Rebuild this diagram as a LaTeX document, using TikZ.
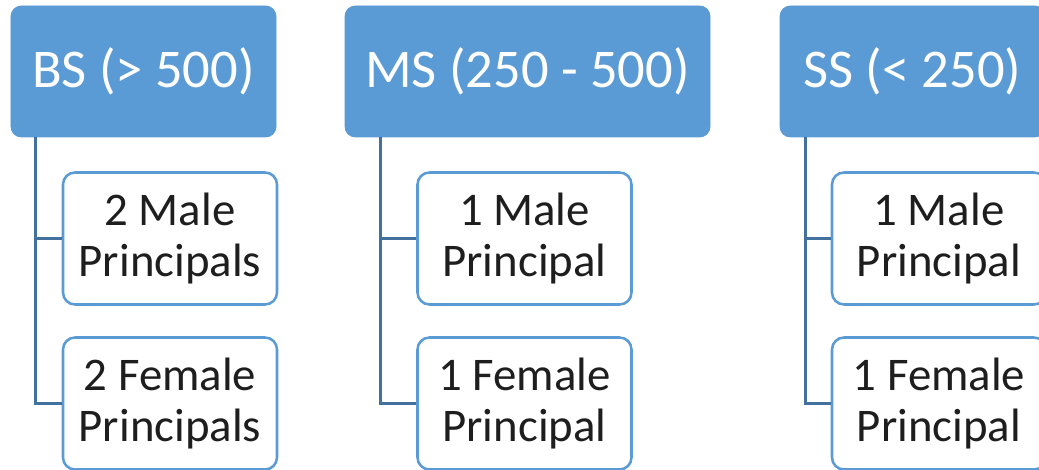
\documentclass[tikz,border=0pt]{standalone}
\usepackage{fontspec}
\setmainfont{Carlito}
\usetikzlibrary{positioning, calc}
\usepackage{xcolor}
\definecolor{headblue}{HTML}{5B9BD5}
\definecolor{treeline}{HTML}{41719C}
\definecolor{textdark}{HTML}{1E1E1E}
\tikzset{
  headbox/.style={rectangle, draw=headblue, fill=headblue, line width=0.6pt,
                  rounded corners=0.26cm, minimum width=6.625cm, minimum height=3.275cm,
                  align=center, text=white, inner sep=0pt,
                  font=\fontsize{38.8}{46}\selectfont},
  leafbox/.style={rectangle, draw=headblue, fill=white, line width=1.8pt,
                  rounded corners=0.3cm, minimum width=5.35cm, minimum height=3.3cm,
                  align=center, text=textdark, inner sep=0pt,
                  font=\fontsize{33.3}{36.6}\selectfont},
  treelink/.style={draw=treeline, line width=1.9pt},
}
\begin{document}
\begin{tikzpicture}[x=1cm, y=1cm]

  \useasboundingbox (0,0) rectangle (25.975,11.75);
  \clip (0,0) rectangle (25.975,11.75);

  % --- Size groups (top row) ---
  \node[headbox] (bs) at (3.5875, 9.9625) {BS (> 500)};
  \node[headbox, minimum width=9.125cm] (ms) at (13.1875, 9.9625) {MS (250 - 500)};
  \node[headbox] (ss) at (22.8125, 9.9625) {SS (< 250)};

  % --- Principals per group ---
  \node[leafbox] (bsm) at (4.25, 5.7875) {2 Male\\Principals};
  \node[leafbox] (bsf) at (4.25, 1.6625) {2 Female\\Principals};

  \node[leafbox] (msm) at (13.1125, 5.7875) {1 Male\\Principal};
  \node[leafbox] (msf) at (13.1125, 1.6625) {1 Female\\Principal};

  \node[leafbox] (ssm) at (23.475, 5.7875) {1 Male\\Principal};
  \node[leafbox] (ssf) at (23.475, 1.6625) {1 Female\\Principal};

  % --- Tree lines ---
  \draw[treelink] ([xshift=0.625cm]bs.south west) |- (bsf.west);
  \draw[treelink] ([xshift=0.625cm]bs.south west |- bsm.west) -- (bsm.west);

  \draw[treelink] ([xshift=0.9cm]ms.south west) |- (msf.west);
  \draw[treelink] ([xshift=0.9cm]ms.south west |- msm.west) -- (msm.west);

  \draw[treelink] ([xshift=0.65cm]ss.south west) |- (ssf.west);
  \draw[treelink] ([xshift=0.65cm]ss.south west |- ssm.west) -- (ssm.west);

\end{tikzpicture}
\end{document}
